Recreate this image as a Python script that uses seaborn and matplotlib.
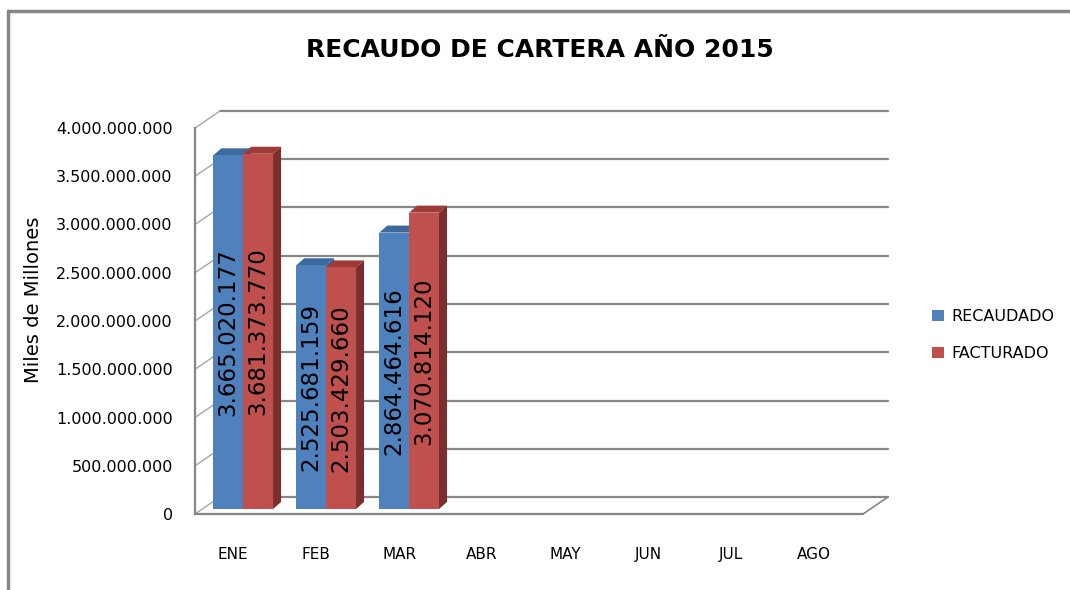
import pandas as pd
import matplotlib
matplotlib.use('Agg')
import matplotlib.pyplot as plt
from matplotlib.lines import Line2D
from matplotlib.patches import Polygon
from matplotlib.ticker import FuncFormatter
import seaborn as sns

# datos
meses = ['ENE', 'FEB', 'MAR', 'ABR', 'MAY', 'JUN', 'JUL', 'AGO']
series = ['RECAUDADO', 'FACTURADO']
recaudado = [3665020177, 2525681159, 2864464616, None, None, None, None, None]
facturado = [3681373770, 2503429660, 3070814120, None, None, None, None, None]
colores = ['#4F81BD', '#C0504D']
colores_techo = ['#3D6A9E', '#9E3B38']
colores_lado = ['#335887', '#7B2E2C']
y_ticks = [0, 500000000, 1000000000, 1500000000, 2000000000,
           2500000000, 3000000000, 3500000000, 4000000000]


def miles(v):
    return f"{int(round(v)):,}".replace(',', '.')


def grafico_recaudo():
    sns.set_style('white')
    plt.rcParams['font.family'] = ['DejaVu Sans']
    plt.rcParams['text.color'] = 'black'
    gris = '#868686'

    df = pd.DataFrame({'mes': meses * 2,
                       'serie': [series[0]] * len(meses) + [series[1]] * len(meses),
                       'valor': recaudado + facturado}).dropna()

    fig = plt.figure(figsize=(10.7, 5.9), dpi=100)
    ax = fig.add_axes([195 / 1070, 76 / 590, 668 / 1070, 386 / 590])

    sns.barplot(data=df, x='mes', y='valor', hue='serie', order=meses,
                hue_order=series, palette=colores, saturation=1, width=0.72,
                errorbar=None, ax=ax, zorder=2, linewidth=0)

    ax.set_xlim(-0.46, 7.59)
    ax.set_ylim(0, 4000000000)
    ax.set_yticks(y_ticks)
    ax.yaxis.set_major_formatter(FuncFormatter(lambda v, p: miles(v)))
    ax.set_xlabel('')
    ax.set_ylabel('')

    # convertir pixeles a unidades de datos
    def px(dx, dy):
        p0 = ax.transData.transform((0, 0))
        q = ax.transData.inverted().transform((p0[0] + dx, p0[1] + dy))
        return q[0], q[1]

    fx, fy = px(25, 17)   # profundidad de la pared del fondo
    bx, by = px(10, 5)    # desplazamiento de las barras
    tx, ty = px(8, 7)     # profundidad de cada barra
    x0, x1 = ax.get_xlim()

    # rejilla en la pared del fondo + diagonales
    for t in y_ticks:
        ax.add_line(Line2D([x0 + fx, x1 + fx], [t + fy, t + fy], color=gris,
                           lw=1.6, zorder=0.5, clip_on=False))
        ax.add_line(Line2D([x0, x0 + fx], [t, t + fy], color='#A6A6A6',
                           lw=1, zorder=0.5, clip_on=False))
    ax.add_line(Line2D([x1, x1 + fx], [0, fy], color=gris, lw=1.2,
                       zorder=0.5, clip_on=False))

    # barras con efecto 3D
    for i, cont in enumerate(ax.containers):
        for bar in cont:
            bar.set_x(bar.get_x() + bx)
            bar.set_y(bar.get_y() + by)
            x, y = bar.get_x(), bar.get_y()
            w, h = bar.get_width(), bar.get_height()
            top = y + h
            ax.add_patch(Polygon([(x, top), (x + w, top), (x + w + tx, top + ty),
                                  (x + tx, top + ty)], closed=True,
                                 facecolor=colores_techo[i], lw=0, zorder=1.5,
                                 clip_on=False))
            ax.add_patch(Polygon([(x + w, y), (x + w + tx, y + ty),
                                  (x + w + tx, top + ty), (x + w, top)], closed=True,
                                 facecolor=colores_lado[i], lw=0, zorder=1.5,
                                 clip_on=False))
        ax.bar_label(cont, labels=[miles(v) for v in cont.datavalues],
                     label_type='center', rotation=90, fontsize=16.5, color='black')

    # ejes
    sns.despine(ax=ax, top=True, right=True)
    for s in ['left', 'bottom']:
        ax.spines[s].set_color(gris)
        ax.spines[s].set_linewidth(1.6)
    ax.tick_params(axis='y', length=6, width=1.2, color=gris, pad=10,
                   labelsize=11.5, labelcolor='black')
    ax.tick_params(axis='x', length=0, pad=24, labelsize=11, labelcolor='black')

    handles, labels = ax.get_legend_handles_labels()
    ax.legend(handles, labels, loc='center left',
              bbox_to_anchor=(918 / 1070, 1 - 335 / 590),
              bbox_transform=fig.transFigure, frameon=False, fontsize=11.5,
              handlelength=0.7, handleheight=0.7, handletextpad=0.5,
              labelspacing=1.4)

    fig.text(540 / 1070, 1 - 50 / 590, 'RECAUDO DE CARTERA AÑO 2015',
             ha='center', va='center', fontsize=18, fontweight='bold')
    fig.text(34 / 1070, 1 - 300 / 590, 'Miles de Millones', rotation=90,
             ha='center', va='center', fontsize=14)

    # marco exterior
    fig.add_artist(Line2D([8 / 1070, 8 / 1070], [0, 1 - 11 / 590],
                          transform=fig.transFigure, color=gris, lw=2.5))
    fig.add_artist(Line2D([8 / 1070, 1], [1 - 11 / 590, 1 - 11 / 590],
                          transform=fig.transFigure, color=gris, lw=2.5))

    fig.savefig('out.png', dpi=100)


if __name__ == '__main__':
    grafico_recaudo()
